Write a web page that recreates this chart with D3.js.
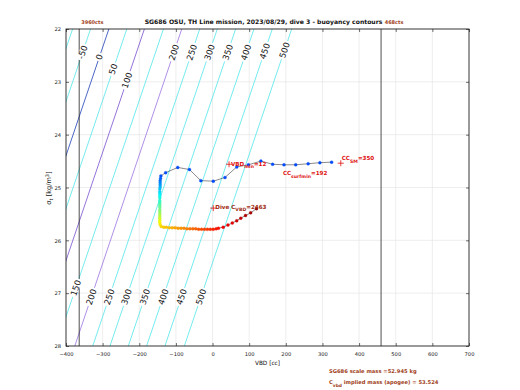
<!DOCTYPE html>
<html><head><meta charset="utf-8">
<script src="https://cdn.jsdelivr.net/npm/d3@7"></script>
<style>body{margin:0;background:#fff}svg{display:block}text{font-family:"DejaVu Sans",sans-serif}</style>
</head><body><svg id="c" width="520" height="390"></svg>
<script>
// ---------- data ----------
const xTicks = [-400,-300,-200,-100,0,100,200,300,400,500,600,700];
const yTicks = [22,23,24,25,26,27,28];
const titleText = "SG686 OSU, TH Line mission, 2023/08/29, dive 3 - buoyancy contours";

const contourLevels    = [-100,-50,0,50,100,150,200,250,300,350,400,450,500];
const contourTopVBD    = [-382,-333,-283,-234,-186,-134,-84,-35,13,63,113,163,216]; // at sigma 22
const contourBottomVBD = [-675,-626,-576,-527,-479,-427,-376,-327,-280,-230,-180,-130,-77]; // at sigma 28

const labelLevels = [-50,0,50,100,200,250,300,350,400,450,500,150,200,250,300,350,400,450,500];
const labelSigma  = [22.44,22.53,22.76,22.97,22.44,22.44,22.44,22.44,22.44,22.42,22.40,26.90,27.07,27.07,27.07,27.07,27.07,27.07,27.07];

const diveVBD = [325,293,261,227,195,164,132,98,66,34,2,-32,-63,-95,-128,-141,
  -142,-143,-143,-143,-143,-144,-144,-144,-144,-144,-144,-144,-144,-144,-144,-144,-144,-144,-144,-144,-144,-143,
  -140,-133,-126,-118,-110,-102,-94,-86,-78,-70,-62,-54,-46,-38,-30,-22,-14,-6,2,10,16,
  29,42,54,66,77,90,104,120];
const diveSigma = [24.52,24.53,24.55,24.57,24.57,24.56,24.50,24.57,24.61,24.81,24.88,24.87,24.66,24.62,24.72,24.78,
  24.83,24.87,24.91,24.95,24.99,25.03,25.08,25.12,25.16,25.20,25.25,25.29,25.33,25.37,25.42,25.46,25.50,25.54,25.58,25.62,25.66,25.70,
  25.74,25.75,25.75,25.76,25.76,25.76,25.77,25.77,25.77,25.78,25.78,25.78,25.78,25.79,25.79,25.79,25.79,25.79,25.79,25.78,25.77,
  25.75,25.71,25.67,25.63,25.58,25.53,25.48,25.40];
const diveColorVal = [0.2,0.2,0.2,0.2,0.2,0.2,0.2,0.2,0.2,0.2,0.2,0.2,0.2,0.2,0.2,0.2,
  0.22,0.24,0.26,0.28,0.30,0.32,0.34,0.36,0.38,0.40,0.42,0.44,0.46,0.48,0.50,0.52,0.54,0.56,0.58,0.60,0.62,0.64,
  0.66,0.67,0.68,0.69,0.70,0.71,0.72,0.73,0.74,0.75,0.76,0.77,0.78,0.79,0.80,0.81,0.82,0.83,0.84,0.85,0.86,
  0.88,0.89,0.90,0.92,0.93,0.95,0.96,0.98];

const countVBD = [-364, 460];
const countLabels = ["3960cts", "468cts"];

const markerVBD   = [2, 45, 350];
const markerSigma = [25.39, 24.56, 24.54];

// ---------- drawing ----------
const svg = d3.select("#c");
const x = d3.scaleLinear().domain([-400,700]).range([66,469]);
const y = d3.scaleLinear().domain([22,28]).range([29,346]);
const [x0,x1] = x.range(), [y0,y1] = y.range();

svg.append("rect").attr("width",520).attr("height",390).attr("fill","#fff");
svg.append("defs").append("clipPath").attr("id","clip").append("rect")
  .attr("x",x0).attr("y",y0).attr("width",x1-x0).attr("height",y1-y0);

// grid
const grid = svg.append("g").attr("stroke","#e3e3e3").attr("stroke-width",0.6);
grid.selectAll(".gx").data(xTicks).join("line")
  .attr("x1",d=>x(d)).attr("x2",d=>x(d)).attr("y1",y0).attr("y2",y1);
grid.selectAll(".gy").data(yTicks).join("line")
  .attr("y1",d=>y(d)).attr("y2",d=>y(d)).attr("x1",x0).attr("x2",x1);

// contours
const levelColor = l => l===0 ? "#1f3fb8" : l===100 ? "#7a4fcf" : l===200 ? "#9c72e0" : "#52e6ea";
const cg = svg.append("g").attr("clip-path","url(#clip)");
cg.selectAll("line.ct").data(contourLevels).join("line").attr("class","ct")
  .attr("x1",(d,i)=>x(contourTopVBD[i])).attr("y1",y(22))
  .attr("x2",(d,i)=>x(contourBottomVBD[i])).attr("y2",y(28))
  .attr("stroke",d=>levelColor(d)).attr("stroke-width",0.8);

// count lines
svg.append("g").selectAll("line").data(countVBD).join("line")
  .attr("x1",d=>x(d)).attr("x2",d=>x(d)).attr("y1",y0).attr("y2",y1)
  .attr("stroke","#222").attr("stroke-width",0.8);

// contour labels
function vbdOnLevel(level, s){
  const i = contourLevels.indexOf(level);
  return contourTopVBD[i] + (contourBottomVBD[i]-contourTopVBD[i])*(s-22)/6;
}
const lg = svg.append("g").attr("clip-path","url(#clip)");
labelLevels.forEach((lev,k)=>{
  const i = contourLevels.indexOf(lev);
  const dx = x(contourTopVBD[i]) - x(contourBottomVBD[i]);
  const dy = y(22) - y(28);
  const ang = Math.atan2(dy, dx)*180/Math.PI;
  const s = labelSigma[k];
  const g = lg.append("g").attr("transform",`translate(${x(vbdOnLevel(lev,s))},${y(s)}) rotate(${ang})`);
  const t = g.append("text").attr("text-anchor","middle").attr("dy","0.35em")
    .attr("font-size",8.5).attr("fill","#111").text(String(lev));
  const w = t.node().getComputedTextLength();
  g.insert("rect","text").attr("x",-w/2-1.5).attr("y",-3.5).attr("width",w+3).attr("height",7).attr("fill","#fff");
});

// dive track
const jet = d3.scaleLinear().domain([0,0.125,0.375,0.625,0.875,1])
  .range(["#00008f","#0000ff","#00ffff","#ffff00","#ff0000","#800000"]);
const pts = diveVBD.map((v,i)=>({v, s:diveSigma[i], c:diveColorVal[i]}));
svg.append("path").datum(pts)
  .attr("d", d3.line().x(d=>x(d.v)).y(d=>y(d.s)))
  .attr("fill","none").attr("stroke","#3a3a3a").attr("stroke-width",0.6);
svg.append("g").selectAll("circle").data(pts).join("circle")
  .attr("cx",d=>x(d.v)).attr("cy",d=>y(d.s)).attr("r",1.5)
  .attr("fill",d=>jet(d.c)).attr("stroke",d=>d3.color(jet(d.c)).darker(0.3)).attr("stroke-width",0.3);

// + markers
svg.append("g").selectAll("path").data(markerVBD).join("path")
  .attr("d",(d,i)=>{const cx=x(d), cy=y(markerSigma[i]); return `M${cx-3},${cy}H${cx+3}M${cx},${cy-3}V${cy+3}`;})
  .attr("stroke","#e01010").attr("stroke-width",0.8).attr("fill","none");

// annotation texts
function subText(px, py, parts, color){
  const t = svg.append("text").attr("x",px).attr("y",py).attr("fill",color).attr("font-size",5.6).attr("font-weight","bold");
  parts.forEach(p=>{
    t.append("tspan").attr("dy",p[1]).attr("font-size",p[2]||5.6).text(p[0]);
  });
  return t;
}
subText(x(2)+2, y(25.39)+0.5, [["Dive C",0],["VBD",2.5,4.6],["=2463",-2.5]], "#a02a10");
subText(x(45)+2, y(24.56)+1.5, [["VBD",0],["min",2.5,4.6],["=12",-2.5]], "#e01010");
subText(x(350)+1, y(24.54)-3, [["CC",0],["SM",2.5,4.6],["=350",-2.5]], "#e01010");
subText(x(192), y(24.56)+11, [["CC",0],["surfmin",2.5,4.6],["=192",-2.5]], "#e01010");

// box + ticks
svg.append("rect").attr("x",x0).attr("y",y0).attr("width",x1-x0).attr("height",y1-y0)
  .attr("fill","none").attr("stroke","#111").attr("stroke-width",0.8);
const axB = svg.append("g").attr("transform",`translate(0,${y1})`)
  .call(d3.axisBottom(x).tickValues(xTicks).tickSize(-3).tickPadding(6).tickFormat(d3.format("d")));
const axT = svg.append("g").attr("transform",`translate(0,${y0})`)
  .call(d3.axisTop(x).tickValues(xTicks).tickSize(-3).tickFormat(""));
const axL = svg.append("g").attr("transform",`translate(${x0},0)`)
  .call(d3.axisLeft(y).tickValues(yTicks).tickSize(-3).tickPadding(5).tickFormat(d3.format("d")));
const axR = svg.append("g").attr("transform",`translate(${x1},0)`)
  .call(d3.axisRight(y).tickValues(yTicks).tickSize(-3).tickFormat(""));
[axB,axT,axL,axR].forEach(a=>{
  a.select(".domain").remove();
  a.selectAll(".tick line").attr("stroke","#111").attr("stroke-width",0.6);
  a.selectAll("text").attr("font-size",5.2).attr("fill","#222").attr("font-family","DejaVu Sans");
});

// title
const title = svg.append("text").attr("x",(x0+x1)/2 - 4).attr("y",24).attr("text-anchor","middle")
  .attr("font-size",6.1).attr("font-weight","bold").attr("fill","#111").text(titleText);
const titleEnd = title.node().getBBox().x + title.node().getBBox().width;

// count labels (second one placed just after the title so they do not collide)
svg.append("g").selectAll("text").data(countLabels).join("text")
  .attr("x",(d,i)=>i===0 ? x(countVBD[i])+2 : Math.max(x(countVBD[i])+2, titleEnd+2)).attr("y",24)
  .attr("font-size",5).attr("font-weight","bold").attr("fill","#a0401a").text(d=>d);

// axis labels
svg.append("text").attr("x",(x0+x1)/2).attr("y",365).attr("text-anchor","middle")
  .attr("font-size",5.8).attr("fill","#111").text("VBD [cc]");
const yl = svg.append("text").attr("transform","translate(51,188) rotate(-90)").attr("text-anchor","middle")
  .attr("font-size",6.6).attr("fill","#111");
yl.append("tspan").text("σ");
yl.append("tspan").attr("dy",2).attr("font-size",5).text("t");
yl.append("tspan").attr("dy",-2).text(" [kg/m");
yl.append("tspan").attr("dy",-2.2).attr("font-size",5).text("3");
yl.append("tspan").attr("dy",2.2).text("]");

// bottom-right notes
svg.append("text").attr("x",329).attr("y",373).attr("font-size",5.2).attr("font-weight","bold")
  .attr("fill","#a0401a").text("SG686 scale mass =52.945 kg");
const n2 = svg.append("text").attr("x",329).attr("y",384).attr("font-size",5.2).attr("font-weight","bold").attr("fill","#a0401a");
n2.append("tspan").text("C");
n2.append("tspan").attr("dy",2.5).attr("font-size",4.4).text("vbd");
n2.append("tspan").attr("dy",-2.5).text(" implied mass (apogee) = 53.524");
</script></body></html>
